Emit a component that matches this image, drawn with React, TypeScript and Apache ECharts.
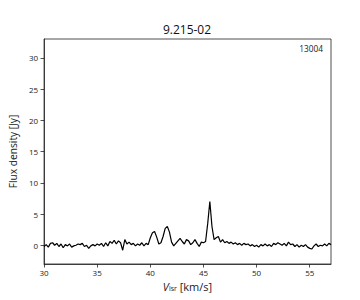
import React, { useEffect, useRef } from "react";
import * as echarts from "echarts";

const TITLE = "9.215-02";
const TAG = "13004";
const V_START = 30;
const V_STEP = 0.2;
const fluxValues: number[] = [
  -0.2, 0.1, -0.3, 0.3, 0.4, 0.0, 0.3, -0.2, 0.2, -0.4,
  0.1, -0.1, 0.2, -0.3, -0.1, 0.0, 0.2, 0.1, 0.3, -0.2,
  0.0, -0.5, -0.1, 0.1, -0.1, 0.2, 0.0, 0.3, -0.2, 0.4,
  -0.1, 0.6, 0.3, 0.8, 0.2, 0.7, 0.4, -0.8, 0.9, 0.2,
  0.5, 0.1, 0.3, -0.1, 0.2, 0.0, 0.4, -0.1, 0.3, 0.1,
  1.2, 2.0, 2.2, 1.3, 0.2, 0.4, 1.4, 2.7, 3.0, 2.1,
  0.5, -0.1, 0.3, 0.7, 1.1, 0.6, 0.2, 0.9, 0.7, 0.1,
  0.4, 0.9, 0.3, -0.2, 0.5, 0.4, 0.6, 3.5, 7.0, 3.0,
  0.9, 1.2, 1.4, 0.5, 0.9, 0.4, 0.6, 0.3, 0.5, 0.2,
  0.4, 0.1, 0.3, 0.0, 0.3, 0.1, 0.2, -0.1, 0.1, -0.2,
  0.0, -0.3, 0.1, -0.1, 0.2, -0.1, 0.1, -0.2, 0.3, 0.1,
  0.4, 0.2, 0.0, 0.3, -0.1, 0.5, 0.1, 0.2, -0.2, 0.1,
  -0.3, 0.0, -0.2, 0.1, -0.3, -0.5, -0.6, -0.1, 0.2, -0.2,
  0.0, -0.1, 0.2, -0.1, 0.3, 0.1,
];
const yTicks = [0, 5, 10, 15, 20, 25, 30];
const xTicks = [30, 35, 40, 45, 50, 55];

const FONT = "Open Sans";

export default function App() {
  const ref = useRef<HTMLDivElement>(null);
  useEffect(() => {
    document.body.style.margin = "0";
    if (!ref.current) return;
    const chart = echarts.init(ref.current, undefined, { renderer: "svg" });
    const data = fluxValues.map((y, i) => [
      Math.round((V_START + V_STEP * i) * 100) / 100,
      y,
    ]);
    chart.setOption({
      animation: false,
      textStyle: { fontFamily: FONT },
      title: {
        text: TITLE,
        left: 187,
        textAlign: "center",
        top: 23,
        padding: 0,
        textStyle: { fontSize: 12, fontWeight: "normal", color: "#111", fontFamily: FONT },
      },
      graphic: [
        {
          type: "text",
          right: 37,
          top: 44,
          style: { text: TAG, fontSize: 8.3, fill: "#222", fontFamily: FONT },
        },
      ],
      grid: {
        left: 43,
        right: 29,
        top: 39,
        bottom: 36,
        show: true,
        borderColor: "#222",
        borderWidth: 0.8,
        containLabel: false,
      },
      xAxis: {
        type: "value",
        min: 30,
        max: 57,
        interval: 5,
        name: "{i|V}{s|lsr} [km/s]",
        nameLocation: "middle",
        nameGap: 17,
        nameTextStyle: {
          fontSize: 11,
          color: "#222",
          fontFamily: FONT,
          rich: {
            i: { fontStyle: "italic", fontSize: 11, color: "#222", fontFamily: FONT },
            s: { fontSize: 7, color: "#222", verticalAlign: "bottom", padding: [4, 0, 0, 0], fontFamily: FONT },
          },
        },
        axisLine: { show: true, onZero: false, lineStyle: { color: "#222", width: 0.8 } },
        axisTick: { show: true, length: 3.5, inside: false, lineStyle: { color: "#222", width: 0.8 }, customValues: xTicks },
        axisLabel: { fontSize: 8, color: "#222", margin: 4, customValues: xTicks, fontFamily: FONT },
        splitLine: { show: false },
      },
      yAxis: {
        type: "value",
        min: -3,
        max: 33,
        name: "Flux density [Jy]",
        nameLocation: "middle",
        nameGap: 26,
        nameTextStyle: { fontSize: 10.2, color: "#222", fontFamily: FONT },
        axisLine: { show: true, onZero: false, lineStyle: { color: "#222", width: 0.8 } },
        axisTick: { show: true, length: 3.5, inside: false, lineStyle: { color: "#222", width: 0.8 }, customValues: yTicks },
        axisLabel: { fontSize: 8, color: "#222", margin: 6, customValues: yTicks, fontFamily: FONT },
        splitLine: { show: false },
      },
      series: [
        {
          type: "line",
          data,
          showSymbol: false,
          symbol: "none",
          lineStyle: { color: "#000", width: 1.2 },
          silent: true,
        },
      ],
    });
    return () => chart.dispose();
  }, []);
  return <div ref={ref} style={{ width: 360, height: 300 }} />;
}
